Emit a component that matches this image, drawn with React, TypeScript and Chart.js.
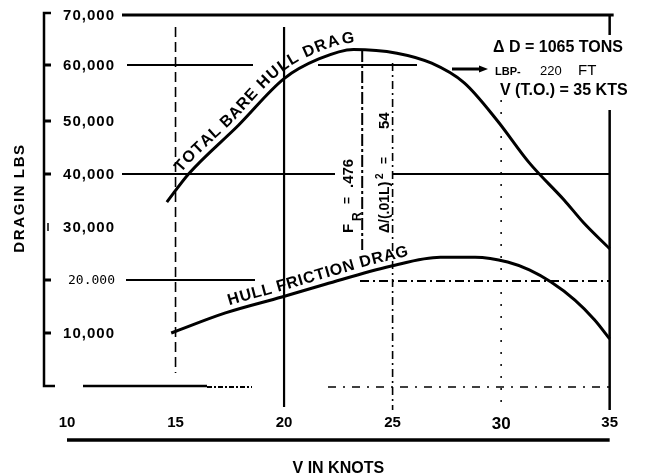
import { useEffect, useRef } from 'react';
import { Chart, registerables } from 'chart.js';

Chart.register(...registerables);

// ---- data ----
const totalSpeeds = [14.6, 15.6, 17.9, 20, 21.6, 23.2, 25.2, 26.8, 28.3, 29.8, 31.3, 32.9, 33.8, 35];
const totalDrag = [34700, 40000, 49200, 58000, 61700, 63500, 62800, 60900, 57200, 50200, 42100, 35100, 30800, 25900];
const frictionSpeeds = [14.8, 17.3, 19.9, 21.9, 24.9, 27.2, 28.8, 30.3, 31.3, 32.3, 33.4, 34.3, 35];
const frictionDrag = [10000, 13800, 16800, 19200, 22600, 24300, 24300, 23400, 21900, 19600, 16200, 12500, 8900];

const xTicks = [10, 15, 20, 25, 30, 35];
const yTickValues = [70000, 60000, 50000, 40000, 30000, 20000, 10000];
const yTickLabels = ['70,000', '60,000', '50,000', '40,000', '30,000', '20.000', '10,000'];

const totalLabel = 'TOTAL BARE HULL DRAG';
const frictionLabel = 'HULL FRICTION DRAG';
const yTitle = 'DRAGIN LBS';
const xTitle = 'V IN KNOTS';

const FONT = '"Liberation Sans", Arial, sans-serif';

function buildPath(points: any[]) {
  const out: { x: number; y: number }[] = [];
  for (let i = 0; i < points.length - 1; i++) {
    const a = points[i];
    const b = points[i + 1];
    const c1x = a.cp2x ?? a.x, c1y = a.cp2y ?? a.y;
    const c2x = b.cp1x ?? b.x, c2y = b.cp1y ?? b.y;
    for (let k = 0; k < 24; k++) {
      const t = k / 24, u = 1 - t;
      out.push({
        x: u * u * u * a.x + 3 * u * u * t * c1x + 3 * u * t * t * c2x + t * t * t * b.x,
        y: u * u * u * a.y + 3 * u * u * t * c1y + 3 * u * t * t * c2y + t * t * t * b.y,
      });
    }
  }
  const last = points[points.length - 1];
  out.push({ x: last.x, y: last.y });
  return out;
}

function textOnPath(ctx: CanvasRenderingContext2D, path: { x: number; y: number }[], text: string,
  startX: number, offset: number, font: string, spacing: number) {
  const cum = [0];
  for (let i = 1; i < path.length; i++) {
    cum.push(cum[i - 1] + Math.hypot(path[i].x - path[i - 1].x, path[i].y - path[i - 1].y));
  }
  const pos = (s: number) => {
    let i = 1;
    while (i < path.length - 1 && cum[i] < s) i++;
    const a = path[i - 1], b = path[i];
    const len = cum[i] - cum[i - 1] || 1;
    const t = (s - cum[i - 1]) / len;
    return { x: a.x + (b.x - a.x) * t, y: a.y + (b.y - a.y) * t };
  };
  let s = 0;
  for (let i = 1; i < path.length; i++) {
    if (path[i].x >= startX) {
      const a = path[i - 1], b = path[i];
      const t = (startX - a.x) / ((b.x - a.x) || 1);
      s = cum[i - 1] + t * (cum[i] - cum[i - 1]);
      break;
    }
  }
  ctx.save();
  ctx.font = font;
  ctx.fillStyle = '#000';
  ctx.textAlign = 'center';
  ctx.textBaseline = 'alphabetic';
  for (const ch of text) {
    const w = ctx.measureText(ch).width;
    const c = s + w / 2;
    const p = pos(c);
    const p1 = pos(c - 5), p2 = pos(c + 5);
    const ang = Math.atan2(p2.y - p1.y, p2.x - p1.x);
    ctx.save();
    ctx.translate(p.x + Math.sin(ang) * offset, p.y - Math.cos(ang) * offset);
    ctx.rotate(ang);
    ctx.fillText(ch, 0, 0);
    ctx.restore();
    s += w + spacing;
  }
  ctx.restore();
}

const decoPlugin = {
  id: 'deco',
  beforeDatasetsDraw(chart: any) {
    const { ctx, chartArea: ca, scales } = chart;
    const X = (v: number) => scales.x.getPixelForValue(v);
    const Y = (v: number) => scales.y.getPixelForValue(v);
    ctx.save();
    ctx.strokeStyle = '#000';
    ctx.lineCap = 'butt';
    const seg = (x1: number, y1: number, x2: number, y2: number, w: number, dash: number[] = []) => {
      ctx.beginPath();
      ctx.lineWidth = w;
      ctx.setLineDash(dash);
      ctx.moveTo(x1, y1);
      ctx.lineTo(x2, y2);
      ctx.stroke();
    };
    // horizontal grid pieces
    seg(122, Y(70000), X(35) + 4, Y(70000), 3);
    seg(127, Y(60000) - 3, 253, Y(60000) - 3, 2);
    seg(318, Y(60000) - 3, 417, Y(60000) - 3, 2);
    seg(122, Y(40000), 335, Y(40000), 2);
    seg(393, Y(40000), X(35), Y(40000), 2);
    seg(126, Y(20000), 255, Y(20000), 2);
    seg(360, Y(20000) + 1, X(35), Y(20000) + 1, 1.8, [9, 4, 2, 4]);
    seg(83, Y(0), 207, Y(0), 2.5);
    seg(207, Y(0) + 1, 252, Y(0) + 1, 2, [5, 2, 2, 2]);
    seg(328, Y(0) + 1, X(35), Y(0) + 1, 1.5, [8, 7, 2, 7]);
    // vertical grid pieces
    seg(X(15), 27, X(15), 373, 1.6, [10, 5]);
    seg(X(20), 27, X(20), 407, 2.2);
    seg(X(25), 63, X(25), 410, 1.6, [8, 4, 2, 4]);
    seg(X(30), 100, X(30), 407, 1.5, [2, 10]);
    seg(X(35), Y(70000), X(35), 35, 2.5);
    seg(X(35), 110, X(35), 410, 2.5);
    seg(X(23.6), 50, X(23.6), 250, 2, [12, 3, 3, 3]);
    // left bracket
    const bx = ca.left - 23;
    ctx.setLineDash([]);
    ctx.lineWidth = 2.5;
    ctx.beginPath();
    ctx.moveTo(bx + 7, Y(70000) - 2);
    ctx.lineTo(bx, Y(70000) - 2);
    ctx.lineTo(bx, Y(0));
    ctx.lineTo(bx + 11, Y(0));
    ctx.stroke();
    for (const v of [60000, 50000, 40000, 20000, 10000]) {
      seg(bx, Y(v) - (v === 60000 ? 3 : 0), bx + 7, Y(v) - (v === 60000 ? 3 : 0), 3);
    }
    seg(bx + 4, Y(30000) - 4, bx + 4, Y(30000) + 4, 1.5);
    // bottom axis line
    seg(X(10), ca.bottom + 54, X(35), ca.bottom + 54, 3.3);
    // arrow
    seg(452, 69, 481, 69, 3);
    ctx.fillStyle = '#000';
    ctx.beginPath();
    ctx.moveTo(479, 65.5);
    ctx.lineTo(488, 69);
    ctx.lineTo(479, 72.5);
    ctx.closePath();
    ctx.fill();
    ctx.restore();
  },
  afterDatasetsDraw(chart: any) {
    const { ctx, scales } = chart;
    const Y = (v: number) => scales.y.getPixelForValue(v);
    ctx.save();
    ctx.fillStyle = '#000';
    // y tick labels
    ctx.textAlign = 'right';
    ctx.textBaseline = 'middle';
    yTickValues.forEach((v, i) => {
      const lab = yTickLabels[i];
      if (lab.includes('.')) {
        ctx.font = `13px "DejaVu Sans Mono", monospace`;
        (ctx as any).letterSpacing = '0px';
      } else {
        ctx.font = `bold 15px ${FONT}`;
        (ctx as any).letterSpacing = '1px';
      }
      ctx.fillText(lab, 115, Y(v) - (v === 60000 ? 3 : 0) + 1);
    });
    (ctx as any).letterSpacing = '0px';
    // y title
    ctx.save();
    ctx.translate(20, 198);
    ctx.rotate(-Math.PI / 2);
    ctx.font = `bold 15px ${FONT}`;
    (ctx as any).letterSpacing = '1.6px';
    ctx.textAlign = 'center';
    ctx.textBaseline = 'middle';
    ctx.fillText(yTitle, 0, 0);
    ctx.restore();
    (ctx as any).letterSpacing = '0px';

    // curve labels
    const pTotal = buildPath(chart.getDatasetMeta(0).data);
    const pFric = buildPath(chart.getDatasetMeta(1).data);
    textOnPath(ctx, pTotal, totalLabel, 186, 6.5, `bold 16px ${FONT}`, 0.8);
    textOnPath(ctx, pFric, frictionLabel, 231, 6, `bold 16px ${FONT}`, 0.7);

    // rotated annotation
    const rot = (text: string, bx: number, by: number, font: string) => {
      ctx.save();
      ctx.translate(bx, by);
      ctx.rotate(-Math.PI / 2);
      ctx.font = font;
      ctx.textAlign = 'left';
      ctx.textBaseline = 'alphabetic';
      ctx.fillText(text, 0, 0);
      ctx.restore();
    };
    rot('F', 353, 233, `bold 15px ${FONT}`);
    rot('R', 361, 221, `bold 12px ${FONT}`);
    rot('=', 351, 204, `bold 12px ${FONT}`);
    rot('.476', 353, 188, `bold 15px ${FONT}`);
    rot('Δ/(.01L)', 389, 233, `bold 14px ${FONT}`);
    rot('2', 383, 179, `bold 10px ${FONT}`);
    rot('=', 388, 164, `bold 12px ${FONT}`);
    rot('54', 389, 129, `bold 15px ${FONT}`);

    // top-right notes
    ctx.textAlign = 'left';
    ctx.textBaseline = 'alphabetic';
    ctx.font = `bold 16px ${FONT}`;
    ctx.fillText('Δ D = 1065 TONS', 493, 52);
    ctx.font = `bold 11px ${FONT}`;
    ctx.fillText('LBP-', 495, 75);
    ctx.font = `13px ${FONT}`;
    ctx.fillText('220', 540, 75);
    ctx.font = `15px ${FONT}`;
    ctx.fillText('FT', 578, 75);
    ctx.font = `bold 16px ${FONT}`;
    ctx.fillText('V (T.O.) = 35 KTS', 500, 95);
    ctx.restore();
  },
};

export default function App() {
  const ref = useRef<HTMLCanvasElement | null>(null);
  useEffect(() => {
    if (!ref.current) return;
    const chart = new Chart(ref.current, {
      type: 'line',
      data: {
        datasets: [
          {
            label: totalLabel,
            data: totalSpeeds.map((v, i) => ({ x: v, y: totalDrag[i] })),
            borderColor: '#000',
            borderWidth: 3,
            pointRadius: 0,
            cubicInterpolationMode: 'monotone',
            fill: false,
            clip: 4,
          },
          {
            label: frictionLabel,
            data: frictionSpeeds.map((v, i) => ({ x: v, y: frictionDrag[i] })),
            borderColor: '#000',
            borderWidth: 3,
            pointRadius: 0,
            cubicInterpolationMode: 'monotone',
            fill: false,
            clip: 4,
          },
        ],
      },
      options: {
        animation: false,
        responsive: true,
        maintainAspectRatio: false,
        devicePixelRatio: 1,
        layout: { padding: { left: 67, right: 33, top: 15, bottom: 0 } },
        plugins: { legend: { display: false }, tooltip: { enabled: false } },
        scales: {
          x: {
            type: 'linear',
            min: 10,
            max: 35,
            grid: { display: false, drawTicks: false },
            border: { display: false },
            afterBuildTicks: (scale: any) => {
              scale.ticks = xTicks.map((v) => ({ value: v }));
            },
            afterFit: (scale: any) => {
              scale.height = 89;
            },
            ticks: {
              autoSkip: false,
              maxRotation: 0,
              padding: 28,
              color: '#000',
              callback: (v: any) => String(v),
              font: (c: any) => ({
                family: FONT,
                weight: 'bold',
                size: c.tick && c.tick.value === 30 ? 17 : 15,
              }),
            },
            title: {
              display: true,
              text: xTitle,
              color: '#000',
              font: { family: FONT, weight: 'bold', size: 16, lineHeight: 1 },
              padding: { top: 0, bottom: -2 },
            },
          },
          y: {
            type: 'linear',
            min: 0,
            max: 70000,
            display: false,
          },
        },
      },
      plugins: [decoPlugin],
    } as any);
    return () => chart.destroy();
  }, []);
  return (
    <div style={{ position: 'fixed', left: 0, top: 0, width: 646, height: 475, background: '#fff' }}>
      <canvas ref={ref} />
    </div>
  );
}
